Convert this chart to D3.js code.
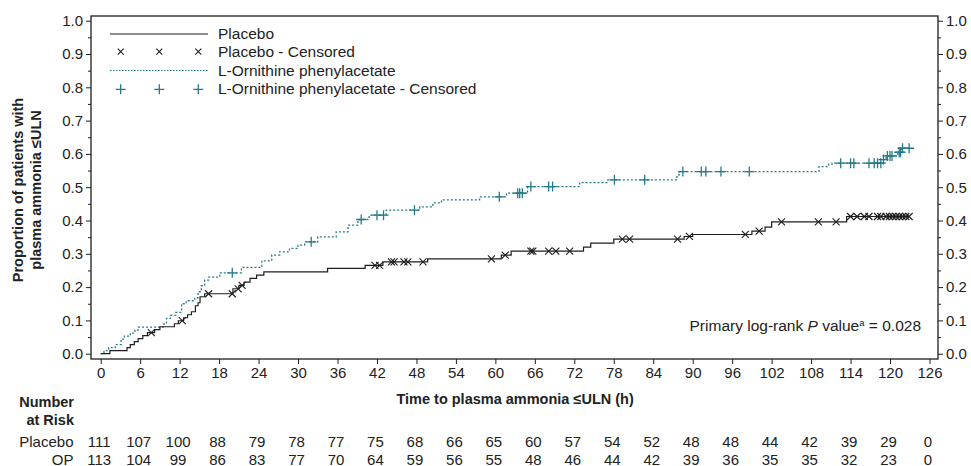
<!DOCTYPE html>
<html>
<head>
<meta charset="utf-8">
<script src="https://cdn.jsdelivr.net/npm/d3@7"></script>
<style>
  body { margin: 0; background: #fff; }
  svg text { font-family: "Liberation Sans", Arial, sans-serif; fill: #222; }
</style>
</head>
<body>
<div id="chart"></div>
<script>
// step curves: time (h) of each event and cumulative proportion after it
var placeboTimes = [0, 1.4, 4.0, 4.5, 5.1, 5.7, 6.4, 7.1, 8.2, 9.0, 11.2, 11.8, 12.6, 13.2, 13.8, 14.4, 14.8, 15.1, 15.8,
  20.1, 21.0, 21.8, 22.7, 23.7, 24.8, 34.5, 40.2, 42.9, 49.7, 60.9, 62.4, 73.4, 74.5, 78.0, 88.7, 90.0, 99.0, 101.0, 102.0, 113.4];
var placeboValues = [0, 0.009, 0.018, 0.027, 0.036, 0.045, 0.054, 0.063, 0.072, 0.081, 0.090, 0.099, 0.108, 0.117, 0.126, 0.144, 0.153, 0.171, 0.180,
  0.195, 0.205, 0.215, 0.226, 0.236, 0.246, 0.256, 0.265, 0.276, 0.285, 0.296, 0.308, 0.320, 0.332, 0.344, 0.352, 0.358, 0.368, 0.380, 0.396, 0.412];
var placeboEnd = 122.9;
var placeboCensored = [7.7, 12.4, 16.4, 20.0, 20.9, 21.5, 41.7, 42.4, 44.2, 44.6, 46.1, 46.7, 49.0, 59.4, 61.5, 65.4, 65.7, 68.1, 69.2, 71.3,
  79.3, 80.4, 87.7, 89.5, 98.0, 100.1, 103.5, 109.1, 111.8, 114.0, 115.0, 116.1, 116.8, 118.1, 118.6, 119.4, 119.9, 120.4, 120.9,
  121.4, 121.9, 122.4, 122.9];

var opTimes = [0, 0.5, 1.2, 2.2, 3.1, 3.6, 4.5, 5.2, 5.7, 9.5, 10.0, 10.6, 11.4, 12.3, 13.0, 14.3, 14.8, 15.3, 15.8, 16.4, 18.1,
  21.4, 24.5, 26.0, 27.2, 28.7, 30.0, 31.0, 33.0, 35.8, 37.6, 39.1, 40.8, 43.4, 48.5, 50.5, 51.8, 57.6, 61.7, 64.9, 72.8, 77.1,
  87.6, 88.0, 109.2, 110.7, 111.2, 119.0, 119.4, 121.2, 121.7];
var opValues = [0, 0.009, 0.018, 0.027, 0.044, 0.053, 0.062, 0.071, 0.080, 0.089, 0.106, 0.115, 0.124, 0.150, 0.159, 0.168, 0.186, 0.204, 0.221, 0.230, 0.243,
  0.259, 0.279, 0.296, 0.306, 0.316, 0.326, 0.336, 0.351, 0.366, 0.386, 0.403, 0.416, 0.431, 0.441, 0.453, 0.462, 0.471, 0.482, 0.502, 0.514, 0.522,
  0.537, 0.547, 0.562, 0.569, 0.572, 0.583, 0.594, 0.605, 0.617];
var opEnd = 122.9;
var opCensored = [20.0, 32.0, 39.6, 42.0, 43.0, 47.7, 60.6, 63.4, 63.7, 64.1, 65.4, 68.1, 68.7, 78.1, 82.7, 88.5, 91.3, 92.0, 94.3, 98.6,
  112.5, 114.0, 114.5, 116.8, 117.6, 118.1, 118.6, 119.0, 119.6, 120.0, 120.3, 121.4, 121.6, 121.9, 122.9];

var xTicks = d3.range(0, 127, 6);
var yTicks = d3.range(0, 11).map(function(i) { return i / 10; });
var yMinorTicks = d3.range(0, 10).map(function(i) { return i / 10 + 0.05; });

var riskLabels = ["Placebo", "OP"];
var placeboAtRisk = [111, 107, 100, 88, 79, 78, 77, 75, 68, 66, 65, 60, 57, 54, 52, 48, 48, 44, 42, 39, 29, 0];
var opAtRisk = [113, 104, 99, 86, 83, 77, 70, 64, 59, 56, 55, 48, 46, 44, 42, 39, 36, 35, 35, 32, 23, 0];

var legendItems = ["Placebo", "Placebo - Censored", "L-Ornithine phenylacetate", "L-Ornithine phenylacetate - Censored"];

var width = 971, height = 466;
var teal = "#267a88", dark = "#1e1e1e";
var fontFamily = '"Liberation Sans", Arial, sans-serif';
var frame = {left: 91, right: 938, top: 16, bottom: 359};

var svg = d3.select("#chart").append("svg")
    .attr("width", width)
    .attr("height", height);

var x = d3.scaleLinear().domain([0, 126]).range([100.7, 929.5]);
var y = d3.scaleLinear().domain([0, 1]).range([353.7, 20.7]);

// frame
svg.append("rect")
    .attr("x", frame.left).attr("y", frame.top)
    .attr("width", frame.right - frame.left).attr("height", frame.bottom - frame.top)
    .attr("fill", "none").attr("stroke", dark).attr("stroke-width", 1.3);

// y axes, both sides
function yAxisSide(gen, xpos) {
    var g = svg.append("g").attr("transform", "translate(" + xpos + ",0)");
    g.call(gen(y).tickValues(yTicks).tickFormat(d3.format(".1f")).tickSize(5).tickPadding(3));
    g.append("g").call(gen(y).tickValues(yMinorTicks).tickFormat("").tickSize(3));
    g.selectAll(".domain").remove();
    g.selectAll("line").attr("stroke", dark).attr("stroke-width", 1);
    g.selectAll("text").attr("font-size", 15).attr("fill", "#222")
        .style("font-family", fontFamily);
}
yAxisSide(d3.axisLeft, frame.left);
yAxisSide(d3.axisRight, frame.right);

var gX = svg.append("g").attr("transform", "translate(0," + frame.bottom + ")")
    .call(d3.axisBottom(x).tickValues(xTicks).tickSize(5).tickPadding(3));
gX.selectAll(".domain").remove();
gX.selectAll("line").attr("stroke", dark);
gX.selectAll("text").attr("font-size", 15).attr("fill", "#222")
    .style("font-family", fontFamily);

// titles
svg.append("text")
    .attr("x", x(63)).attr("y", 404)
    .attr("text-anchor", "middle").attr("font-size", 14.5).attr("font-weight", "bold")
    .text("Time to plasma ammonia \u2264ULN (h)");

var yTitle = svg.append("g").attr("transform", "translate(0,190) rotate(-90)");
yTitle.append("text").attr("x", 0).attr("y", 23)
    .attr("text-anchor", "middle").attr("font-size", 14.5).attr("font-weight", "bold")
    .text("Proportion of patients with");
yTitle.append("text").attr("x", 0).attr("y", 41)
    .attr("text-anchor", "middle").attr("font-size", 14.5).attr("font-weight", "bold")
    .text("plasma ammonia \u2264ULN");

// step paths
function stepData(times, values, end) {
    var pts = times.map(function(t, i) { return [t, values[i]]; });
    pts.push([end, values[values.length - 1]]);
    return pts;
}
var stepLine = d3.line()
    .x(function(d) { return x(d[0]); })
    .y(function(d) { return y(d[1]); })
    .curve(d3.curveStepAfter);

function valueAt(times, values, t) {
    var i = d3.bisectRight(times, t) - 1;
    return values[Math.max(0, i)];
}

svg.append("path")
    .datum(stepData(opTimes, opValues, opEnd))
    .attr("d", stepLine)
    .attr("fill", "none").attr("stroke", teal).attr("stroke-width", 1.3)
    .attr("stroke-dasharray", "2,2");

svg.append("path")
    .datum(stepData(placeboTimes, placeboValues, placeboEnd))
    .attr("d", stepLine)
    .attr("fill", "none").attr("stroke", dark).attr("stroke-width", 1.2);

var crossPath = "M-3.5,-3.5L3.5,3.5M-3.5,3.5L3.5,-3.5";
var plusPath = "M-5,0L5,0M0,-5L0,5";

svg.append("g").selectAll("path")
    .data(placeboCensored)
    .join("path")
    .attr("transform", function(t) { return "translate(" + x(t) + "," + y(valueAt(placeboTimes, placeboValues, t)) + ")"; })
    .attr("d", crossPath)
    .attr("stroke", dark).attr("stroke-width", 1.1).attr("fill", "none");

svg.append("g").selectAll("path")
    .data(opCensored)
    .join("path")
    .attr("transform", function(t) { return "translate(" + x(t) + "," + y(valueAt(opTimes, opValues, t)) + ")"; })
    .attr("d", plusPath)
    .attr("stroke", teal).attr("stroke-width", 1.3).attr("fill", "none");

// legend
var legendRows = [34, 51.7, 70.5, 89.3];
var legend = svg.append("g");
legend.append("line").attr("x1", 110).attr("x2", 208).attr("y1", legendRows[0]).attr("y2", legendRows[0])
    .attr("stroke", dark).attr("stroke-width", 1.2);
legend.append("line").attr("x1", 110).attr("x2", 208).attr("y1", legendRows[2]).attr("y2", legendRows[2])
    .attr("stroke", teal).attr("stroke-width", 1.2).attr("stroke-dasharray", "1.5,1.5");
[120.7, 159.3, 198.3].forEach(function(mx) {
    legend.append("path").attr("transform", "translate(" + mx + "," + legendRows[1] + ")")
        .attr("d", "M-3,-3L3,3M-3,3L3,-3").attr("stroke", dark).attr("stroke-width", 1.1);
    legend.append("path").attr("transform", "translate(" + mx + "," + legendRows[3] + ")")
        .attr("d", plusPath).attr("stroke", teal).attr("stroke-width", 1.3);
});
legend.selectAll("text")
    .data(legendItems)
    .join("text")
    .attr("x", 218).attr("y", function(d, i) { return legendRows[i] + 5; })
    .attr("font-size", 15.5)
    .text(function(d) { return d; });

// p value
var pText = svg.append("text").attr("x", 921).attr("y", 331)
    .attr("text-anchor", "end").attr("font-size", 15.5);
pText.append("tspan").text("Primary log-rank ");
pText.append("tspan").attr("font-style", "italic").text("P");
pText.append("tspan").text(" value");
pText.append("tspan").attr("font-size", 9.5).attr("dy", -5.5).text("a");
pText.append("tspan").attr("dy", 5.5).text(" = 0.028");

// number at risk table
svg.append("text").attr("x", 74).attr("y", 406.5).attr("text-anchor", "end")
    .attr("font-size", 14.5).attr("font-weight", "bold").text("Number");
svg.append("text").attr("x", 74).attr("y", 424.5).attr("text-anchor", "end")
    .attr("font-size", 14.5).attr("font-weight", "bold").text("at Risk");

var riskRows = [placeboAtRisk, opAtRisk];
var riskY = [447, 464.5];
riskRows.forEach(function(row, r) {
    svg.append("text").attr("x", 73.5).attr("y", riskY[r]).attr("text-anchor", "end")
        .attr("font-size", 15).text(riskLabels[r]);
    svg.append("g").selectAll("text")
        .data(row)
        .join("text")
        .attr("x", function(d, i) { return x(xTicks[i]) - 1.5; })
        .attr("y", riskY[r])
        .attr("text-anchor", "middle")
        .attr("font-size", 15)
        .text(function(d) { return d; });
});
</script>
</body>
</html>
